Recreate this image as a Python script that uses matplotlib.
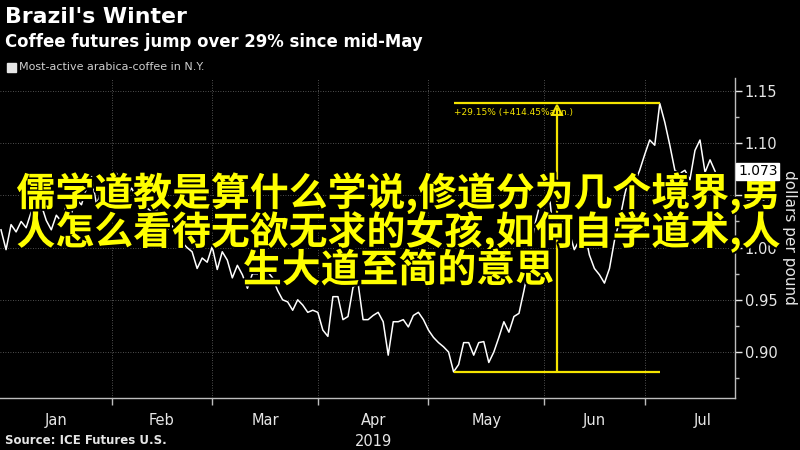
"""
Brazil's Winter: 纽约阿拉比卡咖啡期货（主力合约）走势，带涨幅标注与黄色叠加文字。
横轴按交易日等距排列（与 Bloomberg 图一致），右侧为价格轴。
"""

import matplotlib

matplotlib.use("Agg")
import matplotlib.pyplot as plt
import matplotlib.patheffects as pe
import numpy as np
from matplotlib.patches import Rectangle
from matplotlib.ticker import FixedLocator, MultipleLocator, NullFormatter

# ---- data -------------------------------------------------------------
# 2019-01-02 .. 2019-07-19，每个交易日一个收盘价（dollars per pound）
prices = [
    1.017, 0.998, 1.022, 1.015, 1.025, 1.019, 1.034, 1.025, 1.041, 1.026,
    1.017, 1.031, 1.025, 1.041, 1.033, 1.046, 1.041, 1.057, 1.068, 1.041,
    1.055, 1.046, 1.060, 1.071, 1.057, 1.050, 1.057, 1.046, 1.050, 1.038,
    1.034, 1.036, 1.025, 1.017, 1.021, 1.012, 1.005, 1.000, 0.996, 0.980,
    0.990, 0.986, 1.001, 0.979, 0.996, 0.988, 0.971, 0.983, 0.974, 0.961,
    0.975, 0.975, 0.973, 0.977, 0.971, 0.959, 0.950, 0.948, 0.940, 0.950,
    0.945, 0.938, 0.940, 0.938, 0.921, 0.915, 0.953, 0.953, 0.931, 0.934,
    0.962, 0.966, 0.931, 0.931, 0.935, 0.938, 0.929, 0.897, 0.929, 0.929,
    0.931, 0.924, 0.935, 0.938, 0.931, 0.921, 0.914, 0.909, 0.905, 0.900,
    0.881, 0.888, 0.909, 0.909, 0.897, 0.909, 0.910, 0.890, 0.900, 0.914,
    0.929, 0.919, 0.934, 0.937, 0.959, 0.983, 1.019, 1.038, 1.043, 1.052,
    1.007, 1.017, 1.031, 1.015, 0.998, 1.007, 1.017, 0.993, 0.980, 0.974,
    0.966, 0.980, 1.007, 1.026, 1.050, 1.070, 1.062, 1.074, 1.089, 1.103,
    1.098, 1.138, 1.120, 1.098, 1.074, 1.071, 1.074, 1.065, 1.093, 1.103,
    1.072, 1.084, 1.073,
]

month_labels = ["Jan", "Feb", "Mar", "Apr", "May", "Jun", "Jul"]
month_start_idx = [0, 22, 42, 63, 85, 108, 128]   # 每月第一个交易日的序号
year_label = "2019"

y_ticks = [0.90, 0.95, 1.00, 1.05, 1.10, 1.15]

title = "Brazil's Winter"
subtitle = "Coffee futures jump over 29% since mid-May"
legend_label = "Most-active arabica-coffee in N.Y."
y_label = "dollars per pound"
source = "Source: ICE Futures U.S."
change_text = "+29.15% (+414.45%ann.)"

overlay_lines = [
    "儒学道教是算什么学说,修道分为几个境界,男",
    "人怎么看待无欲无求的女孩,如何自学道术,人",
    "生大道至简的意思",
]

# ---- style ------------------------------------------------------------
BG = "black"
FG = "#e6e6e6"
GRID = "#6a6a6a"
YELLOW = "#f5e400"
CJK = ["Noto Sans CJK SC", "DejaVu Sans"]
NARROW = ["Liberation Sans Narrow", "DejaVu Sans"]


def main() -> None:
    y = np.array(prices)
    x = np.arange(len(y))
    x_end = 146.0

    fig = plt.figure(figsize=(8, 4.5), dpi=100, facecolor=BG)
    ax = fig.add_axes([0.0, 0.1156, 0.919, 0.7114], facecolor=BG)

    ax.plot(x, y, color="white", lw=1.1, zorder=3)

    ax.set_xlim(-0.2, x_end)
    ax.set_ylim(0.856, 1.1625)

    # 网格与坐标轴
    for s in ("left", "top"):
        ax.spines[s].set_visible(False)
    for s in ("right", "bottom"):
        ax.spines[s].set_color("#bdbdbd")
        ax.spines[s].set_linewidth(1.0)

    ax.yaxis.tick_right()
    ax.yaxis.set_label_position("right")
    ax.yaxis.set_major_locator(FixedLocator(y_ticks))
    ax.yaxis.set_minor_locator(MultipleLocator(0.025))
    ax.set_yticklabels([f"{v:.2f}" for v in y_ticks])
    ax.tick_params(axis="y", which="major", colors=FG, labelsize=10.5, length=5,
                   width=1.0, pad=2)
    ax.tick_params(axis="y", which="minor", colors="#bdbdbd", length=3, width=1.0)

    mids = [(a + b) / 2 for a, b in zip(month_start_idx, month_start_idx[1:])]
    mids.append(139.5)
    ax.xaxis.set_major_locator(FixedLocator(month_start_idx[1:]))
    ax.xaxis.set_major_formatter(NullFormatter())
    ax.xaxis.set_minor_locator(FixedLocator(mids))
    ax.set_xticklabels(month_labels, minor=True)
    ax.tick_params(axis="x", which="major", colors="#bdbdbd", length=5, width=1.0)
    ax.tick_params(axis="x", which="minor", colors=FG, length=0, labelsize=10.5,
                   pad=11)
    for lab in ax.get_xticklabels(minor=True):
        lab.set_family(NARROW)

    ax.grid(True, which="major", color=GRID, lw=0.6, ls=(0, (1, 2)))
    ax.set_axisbelow(True)

    ax.text(mids[3], -0.135, year_label, transform=ax.get_xaxis_transform(),
            ha="center", va="center", color=FG, fontsize=10.5, family=NARROW)

    ax.set_ylabel(y_label, color=FG, fontsize=11, rotation=270, labelpad=14)

    # 涨幅标注（低点 -> 高点）
    i_lo, i_hi = int(np.argmin(y)), int(np.argmax(y))
    lo, hi = y[i_lo], y[i_hi]
    x_mid = 110.5
    ax.hlines([lo, hi], i_lo, i_hi, color=YELLOW, lw=1.6, zorder=4)
    ax.vlines(x_mid, lo, hi - 0.004, color=YELLOW, lw=1.6, zorder=4)
    ax.plot([x_mid], [hi - 0.006], marker="^", ms=7, mfc="none", mec=YELLOW,
            mew=1.4, zorder=5)
    ax.text(i_lo, hi - 0.004, change_text, color=YELLOW, fontsize=6.5,
            ha="left", va="top", zorder=5)

    # 标题 / 图例 / 来源
    fig.text(0.006, 0.962, title, color="white", fontsize=15.8, weight="bold",
             ha="left", va="center")
    fig.text(0.006, 0.907, subtitle, color="white", fontsize=11.9,
             weight="bold", ha="left", va="center")
    fig.patches.append(Rectangle((0.009, 0.840), 0.011, 0.019,
                                 transform=fig.transFigure, color=FG))
    fig.text(0.024, 0.850, legend_label, color="#cfcfcf", fontsize=8,
             ha="left", va="center")
    fig.text(0.006, 0.020, source, color=FG, fontsize=8.5, weight="bold",
             ha="left", va="center")

    # 黄色叠加文字
    stroke = [pe.withStroke(linewidth=3, foreground="black")]
    for k, line in enumerate(overlay_lines):
        fig.text(0.498, 0.571 - k * 0.086, line, color="#ffff00", fontsize=28,
                 weight="bold", family=CJK, ha="center", va="center",
                 path_effects=stroke, zorder=10)

    # 最新值标签（画在叠加文字之上）
    last = y[-1]
    fig.text(1.004, last, f"{last:.3f}", transform=ax.get_yaxis_transform(),
             ha="left", va="center", color="black", fontsize=10, zorder=12,
             bbox=dict(boxstyle="square,pad=0.12", fc="white", ec="white"))

    fig.savefig("out.png", dpi=100, facecolor=BG)
    plt.close(fig)


if __name__ == "__main__":
    main()
